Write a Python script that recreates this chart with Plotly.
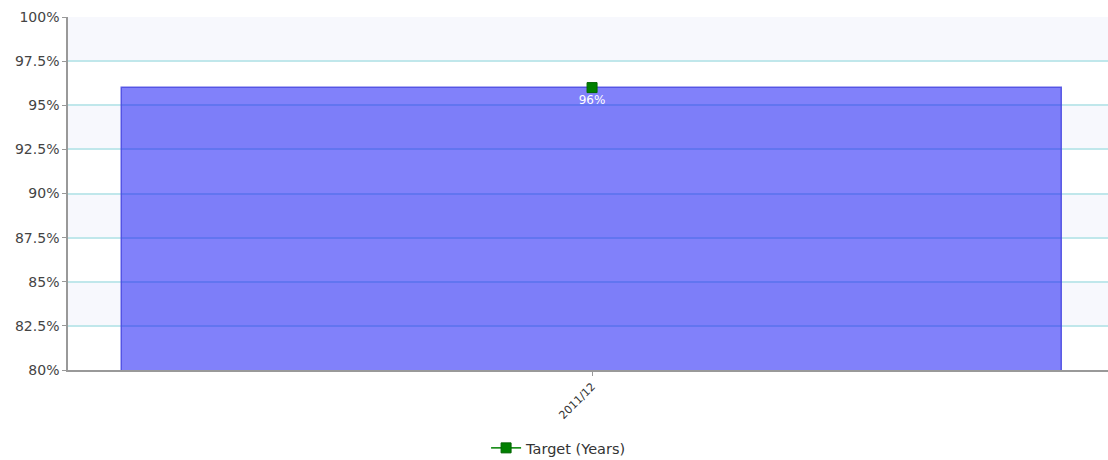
import plotly.graph_objects as go

# Period categories and percentage values
periods = ["2011/12"]
actual_pct = [96]
target_pct = [96]
target_name = "Target (Years)"

# Y axis ticks
y_ticks = [80, 82.5, 85, 87.5, 90, 92.5, 95, 97.5, 100]
y_tick_text = ["80%", "82.5%", "85%", "87.5%", "90%", "92.5%", "95%", "97.5%", "100%"]

fig = go.Figure()

fig.add_trace(go.Bar(
    x=periods,
    y=actual_pct,
    width=0.904,
    marker=dict(color="rgba(3,3,245,0.5)",
                line=dict(color="rgba(70,70,225,0.85)", width=1.5)),
    showlegend=False,
    hoverinfo="skip",
))

fig.add_trace(go.Scatter(
    x=periods,
    y=target_pct,
    name=target_name,
    mode="lines+markers+text",
    marker=dict(symbol="square", size=10, color="#008000",
                line=dict(color="#006400", width=1)),
    line=dict(color="#008000", width=1.5),
    text=[f"{v}%" for v in target_pct],
    textposition="bottom center",
    textfont=dict(color="white", size=12, family="DejaVu Sans"),
))

# Alternating horizontal bands behind the grid
for lo in [82.5, 87.5, 92.5, 97.5]:
    fig.add_shape(type="rect", xref="paper", yref="y", x0=0, x1=1,
                  y0=lo, y1=lo + 2.5, fillcolor="#f7f8fd",
                  line=dict(width=0), layer="below")

fig.update_layout(
    width=1108, height=460,
    margin=dict(l=68, r=0, t=17, b=90),
    plot_bgcolor="white", paper_bgcolor="white",
    bargap=0,
    font=dict(family="DejaVu Sans", color="#444444"),
    showlegend=True,
    legend=dict(orientation="h", x=0.402, xanchor="left",
                yref="container", y=0.061, yanchor="top",
                font=dict(size=14.5, color="#333333"), bgcolor="rgba(0,0,0,0)"),
    xaxis=dict(
        range=[-0.5039, 0.4961],
        automargin=False,
        showgrid=False,
        showline=True, linecolor="#999999", linewidth=1.5,
        ticks="outside", ticklen=4, tickcolor="#999999",
        tickangle=-45,
        tickfont=dict(size=11, color="#333333"),
    ),
    yaxis=dict(
        range=[80, 100],
        automargin=False,
        tickvals=y_ticks, ticktext=y_tick_text,
        showgrid=True, gridcolor="#c0e7eb", gridwidth=1.5,
        showline=True, linecolor="#999999", linewidth=1.5,
        ticks="outside", ticklen=4, tickcolor="#999999",
        tickfont=dict(size=14, color="#444444"),
        zeroline=False,
    ),
)

fig.write_html("out.html")
